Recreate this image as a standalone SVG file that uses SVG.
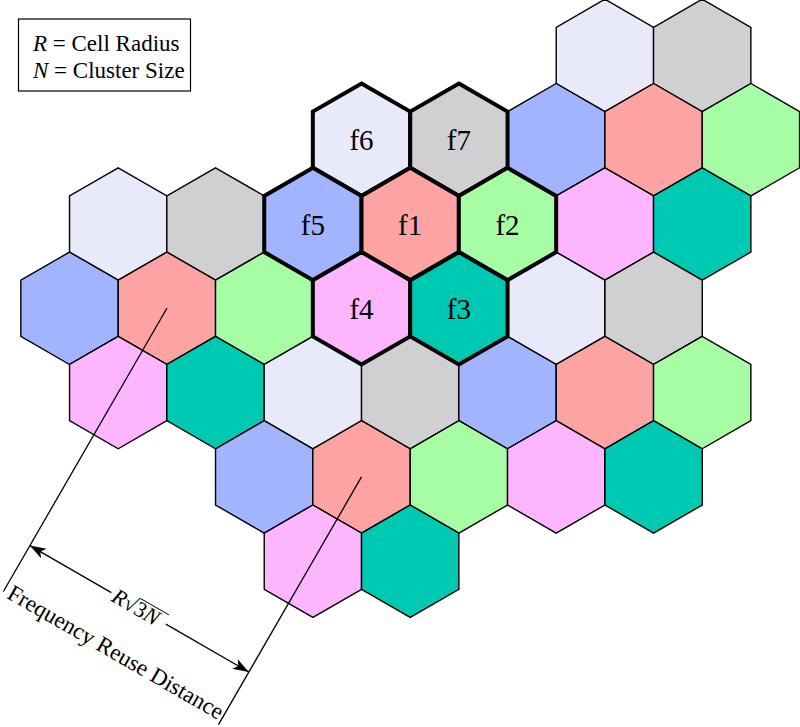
<svg xmlns="http://www.w3.org/2000/svg" xmlns:xlink="http://www.w3.org/1999/xlink" width="800" height="727" viewBox="0 0 800 727">
<style>
.cell{stroke:#000;stroke-width:1.4;stroke-linejoin:miter}
.bold{stroke:#000;stroke-width:4;stroke-linejoin:miter}
.lav{fill:#e8eafa}.gry{fill:#d0d0d2}.blu{fill:#a2b4fd}.red{fill:#fda3a3}
.grn{fill:#a6fda3}.pnk{fill:#fdb6fd}.tea{fill:#00c9b2}
.lbl{font-family:"Liberation Serif","Times New Roman",serif;font-size:29px;text-anchor:middle;fill:#000}
.txt{font-family:"Liberation Serif","Times New Roman",serif;font-size:23px;fill:#000}
.ln{stroke:#000;stroke-width:1.3;fill:none}
</style>
<defs>
<path id="hex" d="M0,-56.2 L48.67,-28.1 L48.67,28.1 L0,56.2 L-48.67,28.1 L-48.67,-28.1 Z"/>
<marker id="arr" viewBox="-17 -7 18 14" refX="0" refY="0" markerWidth="18" markerHeight="14" markerUnits="userSpaceOnUse" orient="auto-start-reverse">
<path d="M0,0 L-16,-5.5 L-12,0 L-16,5.5 Z" fill="#000"/>
</marker>
</defs>
<rect width="800" height="727" fill="#fff"/>
<g id="cells">
<g id="c-a1"><use xlink:href="#hex" x="604.9" y="55.4" class="cell lav"/></g>
<g id="c-a2"><use xlink:href="#hex" x="702.2" y="55.4" class="cell gry"/></g>
<g id="c-b1"><use xlink:href="#hex" x="556.2" y="139.7" class="cell blu"/></g>
<g id="c-b2"><use xlink:href="#hex" x="653.6" y="139.7" class="cell red"/></g>
<g id="c-b3"><use xlink:href="#hex" x="750.9" y="139.7" class="cell grn"/></g>
<g id="c-c1"><use xlink:href="#hex" x="118.2" y="224" class="cell lav"/></g>
<g id="c-c2"><use xlink:href="#hex" x="215.5" y="224" class="cell gry"/></g>
<g id="c-c3"><use xlink:href="#hex" x="604.9" y="224" class="cell pnk"/></g>
<g id="c-c4"><use xlink:href="#hex" x="702.2" y="224" class="cell tea"/></g>
<g id="c-d1"><use xlink:href="#hex" x="69.5" y="308.3" class="cell blu"/></g>
<g id="c-d2"><use xlink:href="#hex" x="166.9" y="308.3" class="cell red"/></g>
<g id="c-d3"><use xlink:href="#hex" x="264.2" y="308.3" class="cell grn"/></g>
<g id="c-d4"><use xlink:href="#hex" x="556.2" y="308.3" class="cell lav"/></g>
<g id="c-d5"><use xlink:href="#hex" x="653.6" y="308.3" class="cell gry"/></g>
<g id="c-e1"><use xlink:href="#hex" x="118.2" y="392.6" class="cell pnk"/></g>
<g id="c-e2"><use xlink:href="#hex" x="215.5" y="392.6" class="cell tea"/></g>
<g id="c-e3"><use xlink:href="#hex" x="312.9" y="392.6" class="cell lav"/></g>
<g id="c-e4"><use xlink:href="#hex" x="410.2" y="392.6" class="cell gry"/></g>
<g id="c-e5"><use xlink:href="#hex" x="507.5" y="392.6" class="cell blu"/></g>
<g id="c-e6"><use xlink:href="#hex" x="604.9" y="392.6" class="cell red"/></g>
<g id="c-e7"><use xlink:href="#hex" x="702.2" y="392.6" class="cell grn"/></g>
<g id="c-f1"><use xlink:href="#hex" x="264.2" y="476.9" class="cell blu"/></g>
<g id="c-f2"><use xlink:href="#hex" x="361.5" y="476.9" class="cell red"/></g>
<g id="c-f3"><use xlink:href="#hex" x="458.9" y="476.9" class="cell grn"/></g>
<g id="c-f4"><use xlink:href="#hex" x="556.2" y="476.9" class="cell pnk"/></g>
<g id="c-f5"><use xlink:href="#hex" x="653.6" y="476.9" class="cell tea"/></g>
<g id="c-g1"><use xlink:href="#hex" x="312.9" y="561.2" class="cell pnk"/></g>
<g id="c-g2"><use xlink:href="#hex" x="410.2" y="561.2" class="cell tea"/></g>
</g>
<g id="cluster">
<g id="f6"><use xlink:href="#hex" x="361.5" y="139.7" class="bold lav"/><text class="lbl" x="361.5" y="150.3">f6</text></g>
<g id="f7"><use xlink:href="#hex" x="458.9" y="139.7" class="bold gry"/><text class="lbl" x="458.9" y="150.3">f7</text></g>
<g id="f5"><use xlink:href="#hex" x="312.9" y="224" class="bold blu"/><text class="lbl" x="312.9" y="234.6">f5</text></g>
<g id="f1"><use xlink:href="#hex" x="410.2" y="224" class="bold red"/><text class="lbl" x="410.2" y="234.6">f1</text></g>
<g id="f2"><use xlink:href="#hex" x="507.5" y="224" class="bold grn"/><text class="lbl" x="507.5" y="234.6">f2</text></g>
<g id="f4"><use xlink:href="#hex" x="361.5" y="308.3" class="bold pnk"/><text class="lbl" x="361.5" y="318.9">f4</text></g>
<g id="f3"><use xlink:href="#hex" x="458.9" y="308.3" class="bold tea"/><text class="lbl" x="458.9" y="318.9">f3</text></g>
</g>
<g id="connectors">
<line class="ln" x1="166.9" y1="308.3" x2="3.4" y2="591.5"/>
<line class="ln" x1="361.5" y1="476.9" x2="218.5" y2="724.6"/>
<g transform="translate(29.9,545.6) rotate(30)">
<line class="ln" x1="0" y1="0" x2="94" y2="0" marker-start="url(#arr)"/>
<line class="ln" x1="157" y1="0" x2="252.8" y2="0" marker-end="url(#arr)"/>
</g>
</g>
<g id="dimension-labels">
<g transform="translate(29.9,545.6) rotate(30)">
<text x="97" y="7.5" style="font-family:'Liberation Serif','Times New Roman',serif;font-size:22px"><tspan font-style="italic">R</tspan><tspan>√</tspan><tspan>3</tspan><tspan font-style="italic">N</tspan></text>
<line x1="122.5" y1="-9.5" x2="155" y2="-9.5" stroke="#000" stroke-width="1"/>
<text class="txt" x="127.6" y="57" text-anchor="middle">Frequency Reuse Distance</text>
</g>
</g>
<g id="legend">
<rect x="18.5" y="19" width="172" height="72" fill="#fff" stroke="#000" stroke-width="1.2"/>
<text class="txt" x="33" y="50.5"><tspan font-style="italic">R</tspan> = Cell Radius</text>
<text class="txt" x="33" y="78"><tspan font-style="italic">N</tspan> = Cluster Size</text>
</g>
</svg>
